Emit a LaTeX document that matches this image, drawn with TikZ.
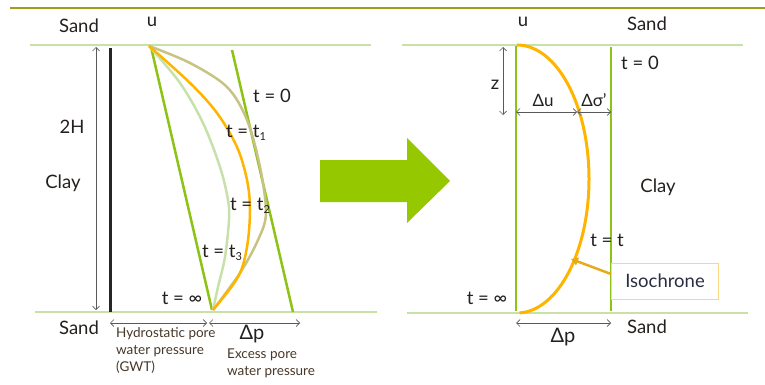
\documentclass[tikz,border=0pt]{standalone}
\usepackage{fontspec}
\setmainfont{Lato}
\usetikzlibrary{arrows.meta}
\definecolor{olivetop}{RGB}{160,160,20}
\definecolor{sandline}{RGB}{200,226,165}
\definecolor{lgreen}{RGB}{140,195,20}
\definecolor{bigarrow}{RGB}{150,200,0}
\definecolor{orangec}{RGB}{255,180,0}
\definecolor{khaki}{RGB}{200,195,130}
\definecolor{palegreen}{RGB}{200,225,170}
\definecolor{txt}{RGB}{35,32,30}
\definecolor{smalltxt}{RGB}{70,55,40}
\definecolor{isobox}{RGB}{250,215,130}
\definecolor{isoarrow}{RGB}{230,170,30}
\definecolor{isotxt}{RGB}{40,45,65}
\begin{document}
\begin{tikzpicture}[x=1pt,y=-1pt,
  lbl/.style={text=txt,inner sep=0pt,font=\fontsize{18.5}{20}\selectfont},
  small/.style={text=smalltxt,inner sep=0pt,align=left,font=\fontsize{13.5}{17}\selectfont},
  mid/.style={text=txt,inner sep=0pt,font=\fontsize{17}{19}\selectfont},
  sandl/.style={draw=sandline,line width=2pt},
  gline/.style={draw=lgreen,line width=2.5pt},
  dim/.style={draw=black!65,line width=0.7pt,{Straight Barb[length=3.5pt,width=7pt]}-{Straight Barb[length=3.5pt,width=7pt]}},
  curve/.style={line width=2.5pt}]
\useasboundingbox (0,0) rectangle (765,385);
% top rule
\coordinate (r1) at (10,8); \coordinate (r2) at (765,8);
\draw[olivetop,line width=2pt] (r1) -- (r2);

% ---------- left panel ----------
\coordinate (lsT1) at (30,45); \coordinate (lsT2) at (371,45);
\coordinate (lsB1) at (35,312); \coordinate (lsB2) at (377,312);
\draw[sandl] (lsT1) -- (lsT2);
\draw[sandl] (lsB1) -- (lsB2);

\coordinate (hA) at (96,47); \coordinate (hB) at (96,310);
\draw[dim] (hA) -- (hB);
\coordinate (bk1) at (110,48); \coordinate (bk2) at (110,312);
\draw[black!85,line width=3pt] (bk1) -- (bk2);

\coordinate (inf1) at (151,47); \coordinate (inf2) at (212,310);
\coordinate (z01) at (232,50); \coordinate (z02) at (293,312);
\draw[gline] (inf1) -- (inf2);
\draw[gline] (z01) -- (z02);

\draw[palegreen,curve] plot[smooth,tension=0.55] coordinates {(149,46) (180,83) (203,123) (220,167) (228,200) (229,220) (225,257) (218,287) (213,310)};
\draw[khaki,curve] plot[smooth,tension=0.55] coordinates {(149,46) (190,63) (227,87) (247,120) (260,167) (266,213) (258,240) (240,273) (213,310)};
\draw[orangec,curve] plot[smooth,tension=0.55] coordinates {(149,46) (190,83) (217,113) (237,147) (247,180) (250,210) (247,247) (238,277) (213,310)};

\node[lbl] (sandTL) at (79,26) {Sand};
\node[lbl] (uL) at (152,22) {u};
\node[lbl] (twoH) at (72,127) {2H};
\node[lbl] (clayL) at (63,183) {Clay};
\node[lbl] (t0L) at (272,96) {t = 0};
\node[lbl] (t1L) at (246,133) {t = t\raisebox{-0.35ex}{\fontsize{11}{12}\selectfont 1}};
\node[lbl] (t2L) at (250,206) {t = t\raisebox{-0.35ex}{\fontsize{11}{12}\selectfont 2}};
\node[lbl] (t3L) at (222,253) {t = t\raisebox{-0.35ex}{\fontsize{11}{12}\selectfont 3}};
\node[lbl] (tinfL) at (182,298) {t = ∞};
\node[lbl] (sandBL) at (79,328) {Sand};

\coordinate (ba1) at (110,323); \coordinate (ba2) at (207,323);
\coordinate (bb1) at (209,323); \coordinate (bb2) at (300,323);
\draw[dim] (ba1) -- (ba2);
\draw[dim] (bb1) -- (bb2);
\node[small,anchor=north west] (hydro) at (116,327) {Hydrostatic pore\\water pressure\\(GWT)};
\node[lbl,font=\fontsize{20}{22}\selectfont] (dpL) at (252,334) {Δp};
\node[small,anchor=north west] (excess) at (227,349) {Excess pore\\water pressure};

% ---------- big arrow ----------
\fill[bigarrow] (320,160) -- (407,160) -- (407,138) -- (450,181) -- (407,223) -- (407,202) -- (320,202) -- cycle;

% ---------- right panel ----------
\coordinate (rsT1) at (402,45); \coordinate (rsT2) at (743,45);
\coordinate (rsB1) at (407,313); \coordinate (rsB2) at (748,313);
\draw[sandl] (rsT1) -- (rsT2);
\draw[sandl] (rsB1) -- (rsB2);
\coordinate (gl1) at (516,46); \coordinate (gl2) at (516,311);
\coordinate (gr1) at (611,47); \coordinate (gr2) at (611,311);
\draw[gline] (gl1) -- (gl2);
\draw[gline] (gr1) -- (gr2);

\draw[orangec,line width=3pt] (517,45) arc[start angle=-90,end angle=88,x radius=72,y radius=134];

\coordinate (za) at (503,47); \coordinate (zb) at (503,115);
\draw[dim] (za) -- (zb);
\coordinate (du1) at (516,112); \coordinate (du2) at (577,112); \coordinate (ds2) at (611,112);
\draw[dim] (du1) -- (du2);
\draw[dim] (du2) -- (ds2);

\node[lbl] (uR) at (523,22) {u};
\node[lbl] (sandTR) at (647,24) {Sand};
\node[lbl] (t0R) at (640,63) {t = 0};
\node[lbl] (zR) at (495,85) {z};
\node[mid] (duL) at (543,100) {Δu};
\node[mid] (dsL) at (594,100) {Δσ'};
\node[lbl] (clayR) at (658,187) {Clay};
\node[lbl] (ttR) at (607,240) {t = t};
\node[draw=isobox,line width=1pt,minimum width=107pt,minimum height=36pt,inner sep=0pt,text=isotxt,font=\fontsize{18.5}{20}\selectfont] (iso) at (665,281) {Isochrone};
\coordinate (isoTip) at (571,259);
\draw[isoarrow,line width=2.5pt,-{Triangle[length=7pt,width=8pt]}] (iso.west |- 0,274) -- (isoTip);
\node[lbl] (tinfR) at (487,298) {t = ∞};

\coordinate (dp1) at (516,323); \coordinate (dp2) at (611,323);
\draw[dim] (dp1) -- (dp2);
\node[lbl,font=\fontsize{20}{22}\selectfont] (dpR) at (563,337) {Δp};
\node[lbl] (sandBR) at (647,327) {Sand};
\end{tikzpicture}
\end{document}
